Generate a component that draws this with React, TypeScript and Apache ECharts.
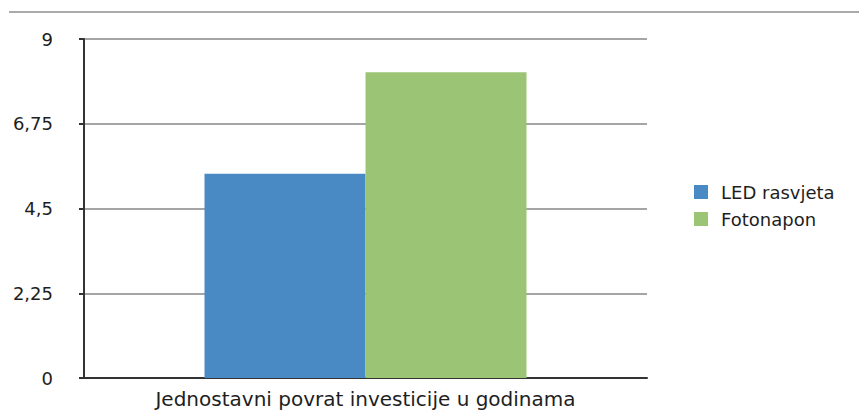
import React, { useEffect, useRef } from "react";
import * as echarts from "echarts";

const categories = ["Jednostavni povrat investicije u godinama"];
const seriesNames = ["LED rasvjeta", "Fotonapon"];
const ledValues = [5.42];
const fotonaponValues = [8.12];
const seriesColors = ["#4A8AC4", "#9BC574"];

export default function App() {
  const ref = useRef<HTMLDivElement>(null);
  useEffect(() => {
    if (!ref.current) return;
    const chart = echarts.init(ref.current, null, { renderer: "svg" });
    const font = "DejaVu Sans, Verdana, sans-serif";
    chart.setOption({
      animation: false,
      backgroundColor: "#ffffff",
      textStyle: { fontFamily: font },
      grid: { left: 84, right: 212, top: 39, bottom: 38, containLabel: false },
      legend: {
        orient: "vertical",
        left: 689,
        top: 178,
        itemWidth: 14,
        itemHeight: 14,
        itemGap: 9,
        icon: "rect",
        textStyle: { fontSize: 18, color: "#1e1e1e", fontFamily: font, padding: [0, 0, 0, 8] },
        data: seriesNames,
      },
      xAxis: {
        type: "category",
        data: categories,
        axisLine: { lineStyle: { color: "#333", width: 2 } },
        axisTick: { show: false },
        axisLabel: { fontSize: 20, color: "#1e1e1e", margin: 11, fontFamily: font },
      },
      yAxis: {
        type: "value",
        min: 0,
        max: 9,
        interval: 2.25,
        axisLine: { show: true, lineStyle: { color: "#333", width: 2 } },
        axisTick: { show: true, length: 5, lineStyle: { color: "#333", width: 2 } },
        axisLabel: {
          fontSize: 18,
          color: "#1e1e1e",
          margin: 31,
          fontFamily: font,
          formatter: (v: number) => String(v).replace(".", ","),
        },
        splitLine: { lineStyle: { color: "#A3A5A7", width: 2 } },
      },
      series: [
        {
          name: seriesNames[0],
          type: "bar",
          data: ledValues,
          barWidth: 161,
          barGap: "0%",
          itemStyle: { color: seriesColors[0] },
        },
        {
          name: seriesNames[1],
          type: "bar",
          data: fotonaponValues,
          barWidth: 161,
          barGap: "0%",
          itemStyle: { color: seriesColors[1] },
        },
      ],
      graphic: [
        {
          type: "line",
          shape: { x1: 9, y1: 12, x2: 859, y2: 12 },
          style: { stroke: "#A8AAAC", lineWidth: 2 },
        },
      ],
    });
    return () => chart.dispose();
  }, []);
  return (
    <div
      ref={ref}
      style={{ position: "absolute", left: 0, top: 0, width: 859, height: 416 }}
    />
  );
}
